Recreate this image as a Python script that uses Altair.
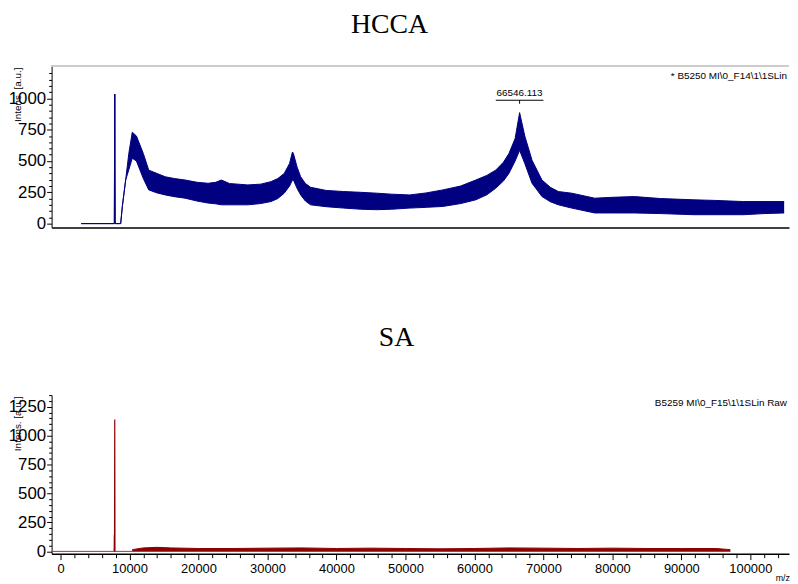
import altair as alt
import pandas as pd

# ---------------- data ----------------
# HCCA spectrum: envelope (upper / lower) of the noisy trace
hcca_mz = [3000, 7800, 7860, 7920, 8720, 8960, 9440, 9900, 10400, 11000, 12000,
           12790, 14000, 15190, 16500, 18060, 19800, 21400, 22500, 23320, 24500,
           27150, 29000, 30500, 31500, 32430, 33200, 33620, 33760, 34300, 34810,
           35500, 36250, 38500, 41050, 43500, 45830, 48000, 50620, 53000, 55420,
           58000, 60200, 61800, 63080, 64200, 65000, 65900, 66550, 67300, 68350,
           69790, 71000, 72170, 74100, 77440, 80000, 83190, 87000, 91810, 95000,
           99000, 102000, 104900]
hcca_hi = [0, 0, 1034, 0, 0, 137, 348, 560, 730, 700, 560,
           427, 400, 374, 360, 348, 330, 322, 330, 348, 320,
           309, 315, 335, 360, 401, 480, 572, 560, 450, 374,
           320, 290, 265, 256, 250, 243, 235, 229, 245, 269,
           300, 348, 385, 427, 490, 559, 680, 886, 700, 506,
           348, 290, 256, 243, 203, 210, 216, 200, 190, 185,
           176, 176, 176]
hcca_lo = [0, 0, 1034, 0, 0, 137, 348, 430, 522, 500, 360,
           269, 245, 229, 215, 203, 180, 164, 158, 150, 150,
           150, 160, 176, 200, 243, 300, 348, 348, 280, 229,
           180, 150, 135, 124, 115, 111, 115, 124, 130, 137,
           160, 190, 230, 282, 340, 401, 500, 585, 480, 322,
           216, 175, 150, 124, 85, 85, 85, 80, 71, 71,
           71, 80, 85]

# SA spectrum
sa_base_mz = [-1300, 97100]
sa_base_int = [0, 0]
sa_spike_mz = [7780, 7800, 7830, 7860, 7890]
sa_spike_int = [0, 138, 138, 1141, 0]
sa_mz = [10390, 12000, 14000, 16000, 20000, 25000, 30000, 35000, 40000, 45000,
         50000, 55000, 60000, 65000, 70000, 75000, 80000, 85000, 90000, 95000, 97100]
sa_hi = [15, 30, 35, 30, 25, 25, 28, 30, 25, 28,
         25, 22, 25, 30, 28, 25, 28, 25, 25, 25, 15]

peak_mz = [66546.113]
peak_text = ["66546.113"]
hcca_note = ["* B5250 MI\\0_F14\\1\\1SLin"]
sa_note = ["B5259 MI\\0_F15\\1\\1SLin Raw"]

y_ticks_top = list(range(0, 1201, 50))
y_ticks_bot = list(range(0, 1351, 50))
x_ticks = list(range(0, 106000, 2000))

# ---------------- styling ----------------
W = 744
H1 = 163
H2 = 160
XDOM = [-1293, 105603]
NAVY = "#000080"
RED = "#8B0000"
SANS = "Liberation Sans, Arial"

hcca = pd.DataFrame({"mz": hcca_mz, "hi": hcca_hi, "lo": hcca_lo})
sa_base = pd.DataFrame({"mz": sa_base_mz, "v": sa_base_int})
sa_spike = pd.DataFrame({"mz": sa_spike_mz, "v": sa_spike_int})
sa = pd.DataFrame({"mz": sa_mz, "hi": sa_hi, "lo": [0] * len(sa_mz)})
peak = pd.DataFrame({"mz": peak_mz, "t": peak_text,
                     "a": [peak_mz[0] - 3450], "b": [peak_mz[0] + 3450]})


def yaxis(vals, maxlab):
    return alt.Axis(values=vals, format="d", title="Intens. [a.u.]",
                    labelExpr=f"datum.value % 250 === 0 && datum.value <= {maxlab} ? datum.label : ''",
                    labelOverlap=False,
                    tickSize={"condition": {"test": "datum.value % 250 === 0", "value": 5}, "value": 3},
                    labelFont=SANS, labelFontSize=17, labelColor="black", labelPadding=1,
                    titleFont=SANS, titleFontSize=10, titleFontWeight="normal", titleColor="black",
                    titleAngle=-90, titleAlign="right", titleBaseline="middle",
                    titleX=-34, titleY=1,
                    domainColor="black", tickColor="black", grid=False)


ys_top = alt.Scale(domain=[-32, 1258], nice=False, zero=False)
ys_bot = alt.Scale(domain=[-20, 1351], nice=False, zero=False)
xs = alt.Scale(domain=XDOM, nice=False, zero=False)

x_top_axis = alt.Axis(ticks=False, labels=False, title=None, domainColor="black",
                      domainWidth=1.5, grid=False)
x_bot_axis = alt.Axis(values=x_ticks, format="d", title="m/z",
                      labelExpr="datum.value % 10000 === 0 ? datum.label : ''",
                      labelOverlap=False, labelFlush=False,
                      tickSize={"condition": {"test": "datum.value % 10000 === 0", "value": 6}, "value": 4},
                      labelFont=SANS, labelFontSize=13, labelColor="black", labelPadding=3,
                      titleFont=SANS, titleFontSize=9, titleFontWeight="normal", titleColor="black",
                      titleAlign="left", titleBaseline="middle", titleX=W - 14, titleY=24,
                      domainColor="black", domainWidth=1.5, tickColor="black", grid=False)


def XT(f):
    return alt.X(f, type="quantitative", scale=xs, axis=x_top_axis)


def YT(f):
    return alt.Y(f, type="quantitative", scale=ys_top, axis=yaxis(y_ticks_top, 1000))


def XB(f):
    return alt.X(f, type="quantitative", scale=xs, axis=x_bot_axis)


def YB(f):
    return alt.Y(f, type="quantitative", scale=ys_bot, axis=yaxis(y_ticks_bot, 1250))


band_top = alt.Chart(hcca).mark_area(color=NAVY, opacity=1).encode(
    x=XT("mz"), y=YT("lo"), y2="hi")
hi_top = alt.Chart(hcca).mark_line(color=NAVY, strokeWidth=1).encode(x=XT("mz"), y=YT("hi"))
lo_top = alt.Chart(hcca).mark_line(color=NAVY, strokeWidth=1).encode(x=XT("mz"), y=YT("lo"))
border_top = alt.Chart(hcca).mark_rule(color="#cccccc", strokeWidth=1).encode(
    x=alt.value(0), x2=alt.value(W), y=alt.value(0))
note_top = alt.Chart(pd.DataFrame({"t": hcca_note})).mark_text(
    align="right", baseline="middle", font=SANS, fontSize=10, color="black").encode(
    x=alt.value(W - 2), y=alt.value(10), text="t:N")
peak_txt = alt.Chart(peak).mark_text(
    align="center", baseline="middle", font=SANS, fontSize=10, color="black").encode(
    x=XT("mz"), y=alt.value(27), text="t:N")
peak_bar = alt.Chart(peak).mark_rule(color="black", strokeWidth=1).encode(
    x=XT("a"), x2="b", y=alt.value(34.5))
peak_tick = alt.Chart(peak).mark_rule(color="black", strokeWidth=1).encode(
    x=XT("mz"), y=alt.value(34.5), y2=alt.value(38))

top = alt.layer(band_top, hi_top, lo_top, border_top, note_top, peak_txt, peak_bar, peak_tick).properties(
    width=W, height=H1,
    title=alt.TitleParams("HCCA", font="Liberation Serif", fontSize=28, fontWeight="normal",
                          color="black", anchor="middle", dx=-31, offset=26))

band_bot = alt.Chart(sa).mark_area(color=RED, opacity=1).encode(
    x=XB("mz"), y=YB("lo"), y2="hi")
hi_bot = alt.Chart(sa).mark_line(color=RED, strokeWidth=1).encode(x=XB("mz"), y=YB("hi"))
base_bot = alt.Chart(sa_base).mark_line(color="#B03030", strokeWidth=1).encode(x=XB("mz"), y=YB("v"))
spike_bot = alt.Chart(sa_spike).mark_line(color=RED, strokeWidth=1.2).encode(x=XB("mz"), y=YB("v"))
note_bot = alt.Chart(pd.DataFrame({"t": sa_note})).mark_text(
    align="right", baseline="middle", font=SANS, fontSize=10, color="black").encode(
    x=alt.value(W - 2), y=alt.value(8), text="t:N")

bottom = alt.layer(band_bot, hi_bot, base_bot, spike_bot, note_bot).properties(
    width=W, height=H2,
    title=alt.TitleParams("SA", font="Liberation Serif", fontSize=28, fontWeight="normal",
                          color="black", anchor="middle", dx=-24, offset=35))

chart = alt.vconcat(top, bottom, spacing=93).properties(
    padding={"left": 0, "top": 0, "right": 0, "bottom": 0}
).configure_view(strokeWidth=0).resolve_scale(x="independent", y="independent")

chart.save("out.html", embed_options={"renderer": "svg", "actions": False})
